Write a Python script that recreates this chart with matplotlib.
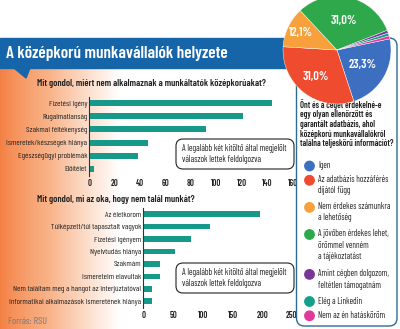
import numpy as np
import matplotlib
matplotlib.use("Agg")
import matplotlib.pyplot as plt
from matplotlib.patches import Rectangle, Polygon, FancyBboxPatch, Circle
from matplotlib.colors import LinearSegmentedColormap

plt.rcParams['font.family'] = ['Barlow Condensed', 'DejaVu Sans']

W, H = 400, 329

# --- data ---
title = "A középkorú munkavállalók helyzete"

q1 = "Mit gondol, miért nem alkalmaznak a munkáltatók középkorúakat?"
q1_labels = ["Fizetési igény", "Rugalmatlanság", "Szakmai féltékenység",
             "Ismeretek/készségek hiánya", "Egészségügyi problémák", "Előítélet"]
q1_values = [144, 121, 92, 46, 38, 4]
q1_ticks = [0, 20, 40, 60, 80, 100, 120, 140, 160]

q2 = "Mit gondol, mi az oka, hogy nem talál munkát?"
q2_labels = ["Az életkorom", "Túlképzett/túl tapasztalt vagyok", "Fizetési igényem",
             "Nyelvtudás hiánya", "Szakmám", "Ismereteim elavultak",
             "Nem találtam meg a hangot az interjúztatóval",
             "Informatikai alkalmazások ismeretének hiánya"]
q2_values = [196, 112, 81, 53, 28, 28, 15, 15]
q2_ticks = [0, 50, 100, 150, 200, 250]

note = "A legalább két kitöltő által megjelölt\nválaszok lettek feldolgozva"
source = "Forrás: RSU"

pie_question = ("Önt és a cégét érdekelné-e\negy olyan ellenőrzött és\n"
                "garantált adatbázis, ahol\nközépkorú munkavállalókról\n"
                "találna teljeskörű információt?")
pie_labels = ["Igen", "Az adatbázis hozzáférés\ndíjától függ",
              "Nem érdekes számunkra\na lehetőség",
              "A jövőben érdekes lehet,\nörömmel venném\na tájékoztatást",
              "Amint cégben dolgozom,\nfeltétlen támogatnám",
              "Elég a Linkedin", "Nem az én hatásköröm"]
pie_values = [23.3, 31.0, 12.1, 31.0, 0.87, 0.87, 0.87]
pie_colors = ["#3d6fc1", "#ee4b2f", "#f8a13c", "#2fa84b", "#7a3696", "#15a08c", "#e0399b"]

BAR = "#17998a"
BLUE = "#1665a8"
INK = "#222222"


def add_px_axes(fig, x0, y0, x1, y1, **kw):
    return fig.add_axes([x0 / W, 1 - y1 / H, (x1 - x0) / W, (y1 - y0) / H], **kw)


def fit_size(t, target_px):
    # font size that makes text t about target_px wide
    w = t.get_window_extent(fig.canvas.get_renderer()).width
    return t.get_fontsize() * target_px / w


fig = plt.figure(figsize=(W / 100, H / 100), dpi=100)
fig.patch.set_facecolor("white")

# background layer (pixel coordinates)
bg = add_px_axes(fig, 0, 0, W, H, zorder=0)
bg.set_xlim(0, W)
bg.set_ylim(H, 0)
bg.axis("off")
grad = np.linspace(0, 1, 256).reshape(1, -1) ** 0.8
cmap = LinearSegmentedColormap.from_list("g", ["#f47f42", "#f9b48a", "#ffffff"])
bg.imshow(grad, cmap=cmap, extent=(0, 120, H, 68), aspect="auto", zorder=0)
bg.add_patch(Rectangle((0, 38), 300, 30, color=BLUE, zorder=2))
bg.add_patch(Polygon([(14, 68), (30, 68), (26, 78)], color=BLUE, zorder=2))
t = bg.text(6, 53.5, title, color="white", fontsize=10, fontweight="semibold",
            va="center", ha="left", zorder=3)
t.set_fontsize(fit_size(t, 222))
t = bg.text(37, 84, q1, fontsize=7, fontweight="semibold", va="center", color=INK)
qsize = fit_size(t, 229)
t.set_fontsize(qsize)
bg.text(37, 199, q2, fontsize=qsize, fontweight="semibold", va="center", color=INK)
t = bg.text(8, 321, source, fontsize=6, color="#777777", va="center")
t.set_fontsize(fit_size(t, 39))


def bar_panel(ax, labels, values, ticks):
    y = np.arange(len(labels))
    ax.barh(y, values, height=0.45, color=BAR)
    ax.set_yticks(y)
    ax.set_yticklabels(labels, fontsize=6, color=INK)
    ax.set_ylim(len(labels) - 0.5, -0.5)
    ax.set_xlim(ticks[0], ticks[-1])
    ax.set_xticks(ticks)
    ax.set_xticklabels([str(t) for t in ticks], fontsize=6.5, fontweight="semibold", color=INK)
    ax.tick_params(length=0, pad=1.5)
    ax.tick_params(axis="x", pad=2.5)
    for s in ["top", "right", "bottom"]:
        ax.spines[s].set_visible(False)
    ax.spines["left"].set_color("#333333")
    ax.spines["left"].set_linewidth(0.8)
    ax.patch.set_alpha(0)


ax1 = add_px_axes(fig, 89.3, 96.5, 292.5, 175.5, zorder=1)
bar_panel(ax1, q1_labels, q1_values, q1_ticks)
ax2 = add_px_axes(fig, 143.3, 208, 292, 307.5, zorder=1)
bar_panel(ax2, q2_labels, q2_values, q2_ticks)
lab_size = fit_size(ax1.get_yticklabels()[3], 81)
num_size = fit_size(ax1.get_xticklabels()[7], 10.5)
for ax in (ax1, ax2):
    ax.tick_params(axis="y", labelsize=lab_size)
    ax.tick_params(axis="x", labelsize=num_size)

# overlay: note boxes and pie legend
ov = add_px_axes(fig, 0, 0, W, H, zorder=2)
ov.set_xlim(0, W)
ov.set_ylim(H, 0)
ov.axis("off")
note_size = None
for top in (139, 263):
    ov.add_patch(FancyBboxPatch((176, top), 118, 30, boxstyle="round,pad=0,rounding_size=7",
                                fc="white", ec=INK, lw=0.8))
    t = ov.text(182, top + 15, note, fontsize=6, va="center", ha="left",
                linespacing=1.3, color=INK)
    if note_size is None:
        note_size = fit_size(t, 104)
    t.set_fontsize(note_size)

ov.add_patch(FancyBboxPatch((296.5, 38), 100.5, 288, boxstyle="round,pad=0,rounding_size=8",
                            fc="white", ec="#2d6c91", lw=1.0))
t = ov.text(300, 123.5, pie_question, fontsize=7, fontweight="semibold", va="center",
            ha="left", linespacing=1.1, color=INK)
t.set_fontsize(fit_size(t, 94))
y = 166
item_size = None
for lab, col in zip(pie_labels, pie_colors):
    n = lab.count("\n") + 1
    ov.add_patch(Circle((309.5, y), 4.7, color=col))
    t = ov.text(318, y - 5, lab, fontsize=6.5, va="top", ha="left",
                linespacing=1.3, color=INK)
    if item_size is None and lab.startswith("Az adat"):
        item_size = fit_size(t, 71)
    y += n * 12.8 + 1.5
for t in ov.texts[-len(pie_labels):]:
    t.set_fontsize(item_size)

# pie
cx, cy, r = 337, 50, 54
pax = add_px_axes(fig, cx - r, cy - r, cx + r, cy + r, zorder=3)
wedges, _ = pax.pie(pie_values, colors=pie_colors, startangle=12, counterclock=False,
                    wedgeprops=dict(edgecolor="white", linewidth=0.3))
pax.set_xlim(-1, 1)
pax.set_ylim(-1, 1)
pax.set_aspect("equal")
pax.axis("off")
label_dist = [0.55, 0.64, 0.74, 0.55]
pie_size = None
for w, v, d in zip(wedges, pie_values, label_dist):
    ang = np.deg2rad((w.theta1 + w.theta2) / 2)
    t = pax.text(d * np.cos(ang), d * np.sin(ang), f"{v:.1f}%".replace(".", ","),
                 color="white", fontsize=9, fontweight="semibold",
                 ha="center", va="center")
    if pie_size is None:
        pie_size = fit_size(t, 28)
    t.set_fontsize(pie_size)

fig.savefig("out.png", dpi=100)
